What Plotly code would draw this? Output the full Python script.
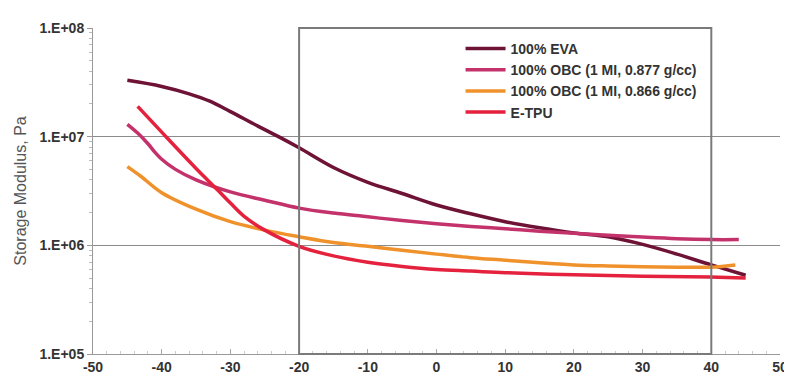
import plotly.graph_objects as go

# Temperature (°C) and storage modulus (Pa)
eva_x = [-45, -40, -36, -33, -30, -26, -23, -20, -15, -10, -5, 0, 5, 10, 15, 20, 25, 30, 35, 40, 45]
eva_y = [3.3e7, 2.9e7, 2.48e7, 2.12e7, 1.7e7, 1.25e7, 1.0e7, 7.9e6, 5.2e6, 3.8e6, 3.0e6, 2.35e6, 1.95e6,
         1.65e6, 1.45e6, 1.3e6, 1.2e6, 1.02e6, 8.3e5, 6.6e5, 5.3e5]

obc877_x = [-45, -43.5, -42, -41, -40, -38, -35, -30, -25, -20, -15, -10, -5, 0, 5, 10, 15, 20, 25, 30, 35, 40, 44]
obc877_y = [1.3e7, 1.08e7, 8.6e6, 7.2e6, 6.2e6, 5.0e6, 4.0e6, 3.1e6, 2.6e6, 2.2e6, 1.98e6, 1.83e6,
            1.69e6, 1.58e6, 1.49e6, 1.42e6, 1.35e6, 1.29e6, 1.24e6, 1.19e6, 1.15e6, 1.13e6, 1.13e6]

obc866_x = [-45, -43, -40, -35, -30, -25, -20, -15, -10, -5, 0, 5, 10, 15, 20, 25, 30, 35, 40, 43.5]
obc866_y = [5.3e6, 4.3e6, 3.05e6, 2.15e6, 1.65e6, 1.38e6, 1.2e6, 1.06e6, 9.8e5, 9.0e5, 8.3e5, 7.7e5,
            7.3e5, 6.9e5, 6.6e5, 6.45e5, 6.35e5, 6.3e5, 6.3e5, 6.6e5]

etpu_x = [-43.5, -40, -35, -32, -30, -28, -25, -20, -15, -10, -5, 0, 5, 10, 20, 30, 40, 45]
etpu_y = [1.9e7, 1.1e7, 5.1e6, 3.3e6, 2.45e6, 1.85e6, 1.38e6, 9.8e5, 8.0e5, 7.0e5, 6.4e5, 6.0e5,
          5.8e5, 5.6e5, 5.35e5, 5.2e5, 5.1e5, 5.0e5]

series_names = ["100% EVA", "100% OBC (1 MI, 0.877 g/cc)", "100% OBC (1 MI, 0.866 g/cc)", "E-TPU"]
series_colors = ["#6E1236", "#C4326C", "#F0922C", "#E5223E"]

x_tickvals = [-50, -40, -30, -20, -10, 0, 10, 20, 30, 40, 50]
x_ticktext = ["-50", "-40", "-30", "-20", "-10", "0", "10", "20", "30", "40", "50"]
y_tickvals = [1e5, 1e6, 1e7, 1e8]
y_ticktext = ["1.E+05", "1.E+06", "1.E+07", "1.E+08"]
y_minor_vals = [m * 10 ** e for e in (5, 6, 7) for m in range(2, 10)]

fig = go.Figure()
for xs, ys, name, col in zip([eva_x, obc877_x, obc866_x, etpu_x],
                             [eva_y, obc877_y, obc866_y, etpu_y],
                             series_names, series_colors):
    fig.add_trace(go.Scatter(x=xs, y=ys, mode="lines", name=name,
                             line=dict(color=col, width=3.5, shape="spline", smoothing=1.0)))

# highlighted window (-20 to 40 °C), full plot height
fig.add_shape(type="rect", xref="x", yref="paper", x0=-20, x1=40, y0=0, y1=1,
              line=dict(color="#7a7a7a", width=2), layer="above")

font_family = "Liberation Sans, Arial, sans-serif"
fig.update_layout(
    width=792, height=381,
    margin=dict(l=84, r=18, t=16, b=35),
    plot_bgcolor="white", paper_bgcolor="white",
    font=dict(family=font_family, color="#333333"),
    legend=dict(x=0.535, y=0.985, xanchor="left", yanchor="top",
                bgcolor="rgba(255,255,255,0)",
                font=dict(family=font_family, size=14, color="#333333", weight="bold"),
                tracegroupgap=0, itemwidth=40),
    xaxis=dict(range=[-50, 50], tickvals=x_tickvals, ticktext=x_ticktext,
               showgrid=False, zeroline=False,
               showline=True, linecolor="#999999", linewidth=1,
               ticks="inside", ticklen=5, tickcolor="#aaaaaa",
               minor=dict(dtick=2, ticks="inside", ticklen=3, tickcolor="#cccccc"),
               tickfont=dict(size=14, color="#333333", weight="bold")),
    yaxis=dict(type="log", range=[5, 8], tickvals=y_tickvals, ticktext=y_ticktext,
               showgrid=True, gridcolor="#8c8c8c", gridwidth=1, zeroline=False,
               showline=True, linecolor="#999999", linewidth=1,
               ticks="outside", ticklen=5, tickcolor="#999999",
               minor=dict(tickmode="array", tickvals=y_minor_vals, ticks="outside",
                          ticklen=3, tickcolor="#bbbbbb", showgrid=False),
               tickfont=dict(size=14, color="#333333", weight="bold"),
               title=dict(text="Storage Modulus, Pa", standoff=8,
                          font=dict(size=16, color="#555555"))),
)

fig.write_html("out.html")
